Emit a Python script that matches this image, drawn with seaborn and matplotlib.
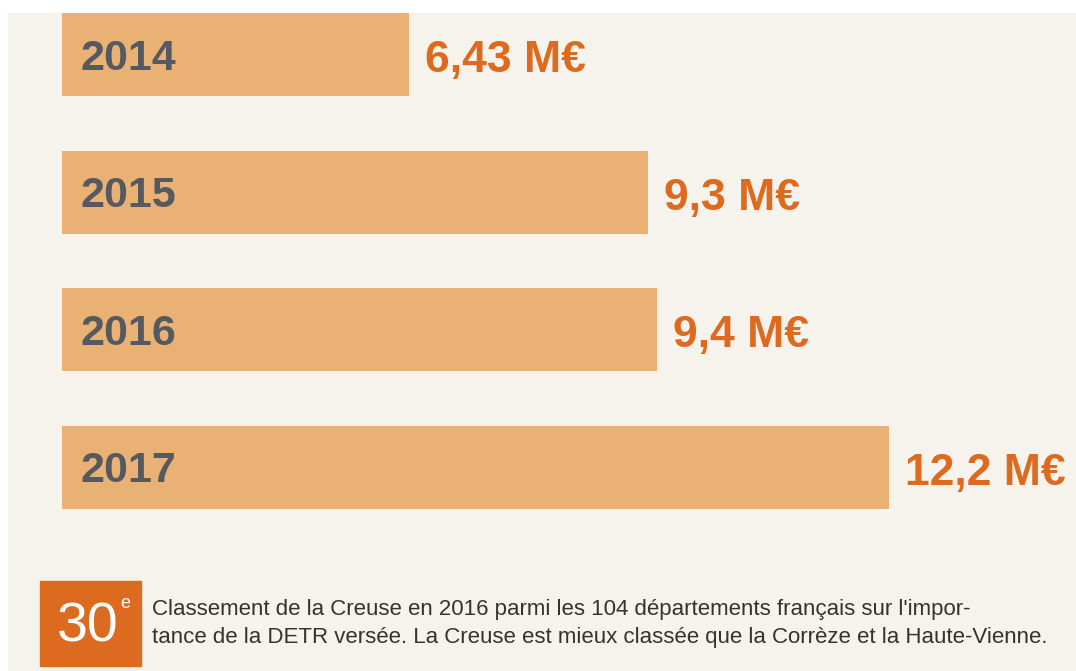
import matplotlib
matplotlib.use("Agg")
import matplotlib.pyplot as plt
from matplotlib.patches import Rectangle
import pandas as pd
import seaborn as sns

# data
years = ["2014", "2015", "2016", "2017"]
amounts = [6.43, 9.3, 9.4, 12.2]
amount_labels = ["6,43 M€", "9,3 M€", "9,4 M€", "12,2 M€"]
rank_text = "30"
rank_suffix = "e"
note_lines = [
    "Classement de la Creuse en 2016 parmi les 104 départements français sur l'impor-",
    "tance de la DETR versée. La Creuse est mieux classée que la Corrèze et la Haute-Vienne.",
]

BG = "#f6f3ec"
BAR = "#e9b274"
YEAR_COL = "#565a60"
VAL_COL = "#dd6a1e"
BOX_COL = "#dc6a1f"
NOTE_COL = "#34332f"

sns.set_theme(style="white")
plt.rcParams["font.family"] = ["Liberation Sans", "DejaVu Sans"]

df = pd.DataFrame({"year": years, "amount": amounts})

W, H = 1076, 671
fig = plt.figure(figsize=(W / 100, H / 100), dpi=100, facecolor="white")

# cream panel (white strip at top and left like the scan)
fig.patches.append(Rectangle((8 / W, 0), 1 - 8 / W, (H - 13) / H,
                             transform=fig.transFigure, color=BG, zorder=-1))

ax = fig.add_axes([62 / W, 0, 1 - 62 / W, (H - 13) / H])
ax.set_zorder(2)
ax.set_facecolor("none")
sns.barplot(data=df, x="amount", y="year", orient="h", color=BAR,
            width=0.604, saturation=1, linewidth=0, ax=ax)
ax.set_xlim(2.253, 14.442)
ax.set_ylim(4.484, -0.305)
ax.axis("off")

for i, (yr, lab, v) in enumerate(zip(years, amount_labels, amounts)):
    ax.annotate(yr, xy=(2.253, i), xytext=(18, -4), textcoords="offset pixels",
                ha="left", va="center", fontsize=31, fontweight="bold",
                color=YEAR_COL)
    ax.annotate(lab, xy=(v, i), xytext=(16, -6), textcoords="offset pixels",
                ha="left", va="center", fontsize=32, fontweight="bold",
                color=VAL_COL, annotation_clip=False)

# rank box at the bottom
fig.patches.append(Rectangle((40 / W, 1 - 666 / H), 101 / W, 85 / H,
                             transform=fig.transFigure, color=BOX_COL, zorder=1))
fig.text(88 / W, 1 - 627 / H, rank_text, ha="center", va="center",
         fontsize=40, color="white")
fig.text(120 / W, 1 - 603 / H, rank_suffix, ha="left", va="center",
         fontsize=13, color="white")

fig.text(152 / W, 1 - 609 / H, note_lines[0], ha="left", va="center",
         fontsize=16, color=NOTE_COL)
fig.text(152 / W, 1 - 638 / H, note_lines[1], ha="left", va="center",
         fontsize=16, color=NOTE_COL)

fig.savefig("out.png", dpi=100, facecolor="white")
